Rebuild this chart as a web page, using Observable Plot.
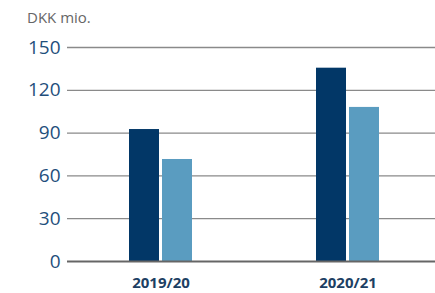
<!DOCTYPE html>
<html>
<head>
<meta charset="utf-8">
<script src="https://cdn.jsdelivr.net/npm/d3@7"></script>
<script src="https://cdn.jsdelivr.net/npm/@observablehq/plot@0.6"></script>
<style>
  body { margin: 0; background: #fff; font-family: "Open Sans", sans-serif; }
  #wrap { position: relative; width: 435px; height: 293px; overflow: hidden; }
  #unit { position: absolute; left: 27px; top: 7px; font-size: 15px; color: #666; }
</style>
</head>
<body>
<div id="wrap"><div id="unit">DKK mio.</div></div>
<script>
const years = ["2019/20", "2020/21"];
const series = ["Serie 1", "Serie 2"];
const values1 = [92.5, 135.5];
const values2 = [71.5, 108];
const yTicks = [0, 30, 60, 90, 120, 150];
const colors = ["#023767", "#5a9cc0"];

const data = [];
years.forEach((yr, i) => {
  data.push({year: yr, series: series[0], value: values1[i]});
  data.push({year: yr, series: series[1], value: values2[i]});
});

const chart = Plot.plot({
  width: 435,
  height: 293,
  marginLeft: 67,
  marginRight: 0,
  marginTop: 47,
  marginBottom: 32,
  style: {fontFamily: "Open Sans, sans-serif", background: "transparent", overflow: "hidden"},
  fx: {domain: years, padding: 0, range: [67, 441], label: null},
  x: {domain: series, paddingInner: 0.08, paddingOuter: 1.87, axis: null},
  y: {domain: [0, 150], label: null},
  color: {domain: series, range: colors},
  marks: [
    Plot.ruleY(yTicks.filter(d => d > 0), {stroke: "#8a8a8a", strokeWidth: 1.3}),
    Plot.barY(data, {fx: "year", x: "series", y: "value", fill: "series"}),
    Plot.ruleY([0], {stroke: "#666", strokeWidth: 1.8}),
    Plot.axisY({ticks: yTicks, tickSize: 0, tickPadding: 7, fontSize: 19, fill: "#1f4f7c", label: null}),
    Plot.axisFx({anchor: "bottom", tickSize: 0, tickPadding: 16, fontSize: 15, fontWeight: "bold", fill: "#1d3f63", label: null})
  ]
});
document.getElementById("wrap").appendChild(chart);
</script>
</body>
</html>
